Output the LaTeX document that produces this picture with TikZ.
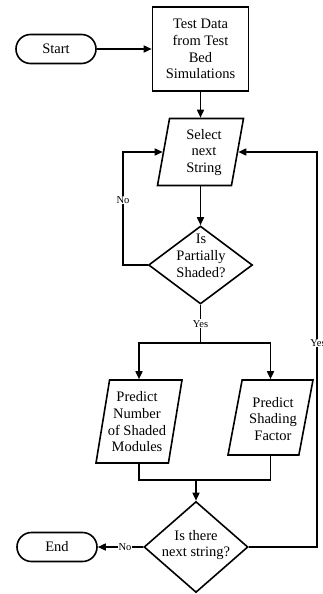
\documentclass[tikz,border=0pt]{standalone}
\usepackage{fontspec}
\setmainfont{Liberation Serif}
\usetikzlibrary{shapes.geometric,shapes.misc,arrows.meta}
\begin{document}
\begin{tikzpicture}[x=1pt,y=-1pt, line width=1.6pt,
  txt/.style={align=center, font=\fontsize{14.5}{16.7}\selectfont, inner sep=0pt},
  boxnode/.style={draw, rectangle, minimum width=96pt, minimum height=84pt, txt},
  term/.style={draw, rounded rectangle, minimum width=80pt, minimum height=29pt, txt},
  para/.style={draw, trapezium, trapezium stretches=true, inner sep=1pt},
  dec/.style={draw, diamond, inner sep=1pt},
  lbl/.style={fill=white, font=\fontsize{10.5}{12}\selectfont, inner sep=1pt},
  arr/.style={-{Triangle[length=8pt,width=7pt]}}]
\useasboundingbox (0,0) rectangle (322,594);
\clip (0,0) rectangle (322,594);

\node[term] (start) at (56,49) {Start};
\node[boxnode] (data) at (200.5,49) {Test Data\\from Test\\Bed\\Simulations};
\node[para, trapezium left angle=79, trapezium right angle=101, minimum width=86pt, minimum height=67pt] (sel) at (200.5,152) {};
\node[txt] (selt) at (204,152.5) {Select\\next\\String};
\node[dec, minimum width=104pt, minimum height=78pt] (d1) at (200.5,265) {};
\node[txt] (d1t) at (201,255.7) {Is\\Partially\\Shaded?};
\node[para, trapezium left angle=77, trapezium right angle=103, minimum width=86pt, minimum height=83pt] (p1) at (139,421.5) {};
\node[txt] (p1t) at (137,421.7) {Predict\\Number\\of Shaded\\Modules};
\node[para, trapezium left angle=76, trapezium right angle=104, minimum width=85pt, minimum height=75pt] (p2) at (270.5,417.5) {};
\node[txt] (p2t) at (273,419) {Predict\\Shading\\Factor};
\node[dec, minimum width=104pt, minimum height=91pt] (d2) at (196,547) {};
\node[txt] (d2t) at (196,545) {Is there\\next string?};
\node[term] (end) at (57,547) {End};

\coordinate (nl) at (123,200);
\coordinate (split) at (200.5,342.7);
\coordinate (m) at (196,480);
\coordinate (yr) at (317,343);

\draw[arr] (start.east) -- (start.east -| data.west);
\draw[arr] (data) -- (sel);
\draw[arr] (sel) -- (d1);
\draw[arr] (d1.west) -| (nl) node[lbl]{No} |- (sel.west);
\draw (d1) -- (split) node[lbl, midway]{Yes};
\draw[arr] (split) -| (p1);
\draw[arr] (split) -| (p2);
\draw (p1) |- (m) -| (p2);
\draw[arr] (m) -- (d2);
\draw[arr] (d2) -- (end) node[lbl, pos=0.4]{No};
\draw[arr] (d2.east) -| (yr) node[lbl, xshift=1pt]{Yes} |- (sel.east);
\end{tikzpicture}
\end{document}
